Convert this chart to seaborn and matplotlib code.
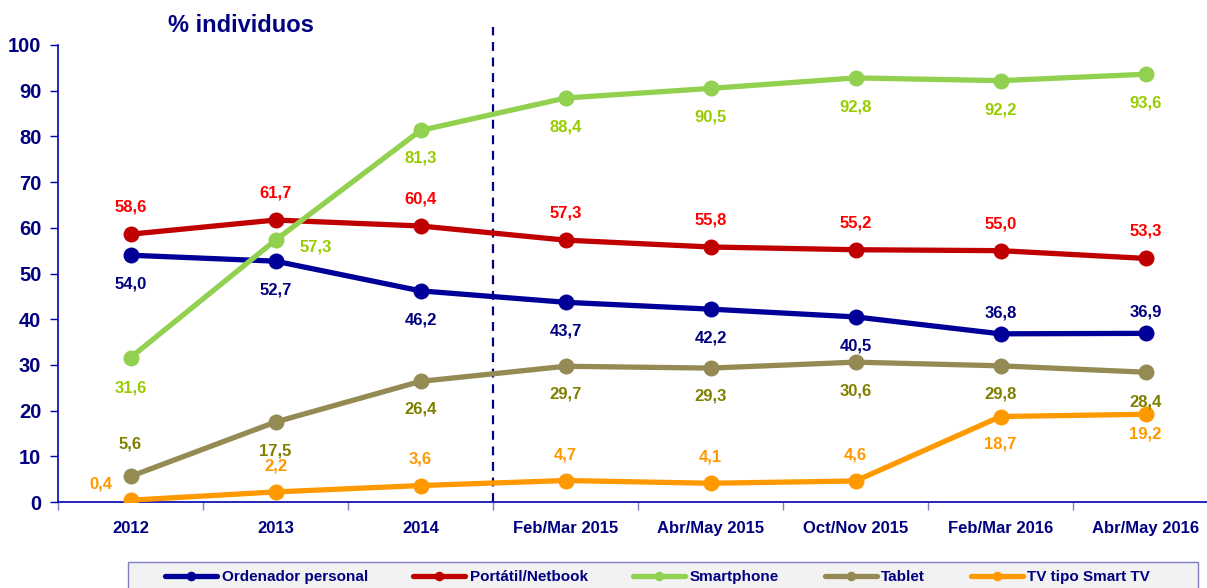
import matplotlib
matplotlib.use("Agg")
import matplotlib.pyplot as plt
from matplotlib.patches import Rectangle
from matplotlib.ticker import FixedLocator, MultipleLocator
import pandas as pd
import seaborn as sns

# -----------------------------------------------------------------
# DATOS
# -----------------------------------------------------------------
periods = ["2012", "2013", "2014", "Feb/Mar 2015", "Abr/May 2015",
           "Oct/Nov 2015", "Feb/Mar 2016", "Abr/May 2016"]

ordenador = [54.0, 52.7, 46.2, 43.7, 42.2, 40.5, 36.8, 36.9]
portatil = [58.6, 61.7, 60.4, 57.3, 55.8, 55.2, 55.0, 53.3]
smartphone = [31.6, 57.3, 81.3, 88.4, 90.5, 92.8, 92.2, 93.6]
tablet = [5.6, 17.5, 26.4, 29.7, 29.3, 30.6, 29.8, 28.4]
smart_tv = [0.4, 2.2, 3.6, 4.7, 4.1, 4.6, 18.7, 19.2]

series_names = ["Ordenador personal", "Portátil/Netbook", "Smartphone",
                "Tablet", "TV tipo Smart TV"]
series_values = [ordenador, portatil, smartphone, tablet, smart_tv]

# estilo por serie: color de linea, color de etiqueta
line_colors = ["#000099", "#C00000", "#92D050", "#948A54", "#FF9900"]
label_colors = ["#000080", "#FF0000", "#99CC00", "#808000", "#FF9900"]
zorders = [3, 3, 5, 3, 4]

# desplazamiento de las etiquetas en pixeles (dx, dy), dy positivo = arriba
label_offsets = [
    [(0, -29)] * 6 + [(0, 21), (0, 21)],
    [(0, 27)] * 8,
    [(0, -30), (40, -7), (0, -28), (0, -29), (0, -29), (0, -29), (0, -29), (0, -29)],
    [(0, 32), (0, -29), (0, -28), (0, -28), (0, -28), (0, -29), (0, -28), (0, -30)],
    [(-30, 16), (0, 26), (0, 27), (0, 26), (0, 26), (0, 26), (0, -27), (0, -20)],
]

NAVY = "#000080"

sns.set_theme(style="white")
plt.rcParams["font.family"] = ["Liberation Sans", "DejaVu Sans"]

fig = plt.figure(figsize=(12.07, 5.88), dpi=100)
ax = fig.add_axes([58 / 1207, 1 - 502 / 588, 1160 / 1207, 457 / 588])

for name, values, lc, tc, z, offs in zip(series_names, series_values, line_colors,
                                          label_colors, zorders, label_offsets):
    df = pd.DataFrame({"periodo": periods, "valor": values})
    sns.lineplot(data=df, x="periodo", y="valor", ax=ax, color=lc, linewidth=3.8,
                 marker="o", markersize=11.5, markeredgewidth=0, label=name,
                 zorder=z, sort=False)
    for i, v in enumerate(values):
        dx, dy = offs[i]
        ax.annotate(f"{v:.1f}".replace(".", ","), (i, v),
                    xytext=(dx * 0.72, dy * 0.72), textcoords="offset points",
                    ha="center", va="center", fontsize=12, fontweight="bold",
                    color=tc, zorder=6)

# linea discontinua entre 2014 y Feb/Mar 2015
ax.axvline(2.5, ymin=0, ymax=1.039, color=NAVY, linestyle=(0, (4, 3)),
           linewidth=1.6, clip_on=False, zorder=2)

ax.set_ylim(0, 100)
ax.set_xlim(-0.5, 7.5)
ax.yaxis.set_major_locator(MultipleLocator(10))
ax.set_xlabel("")
ax.set_ylabel("")

for side in ["top", "right"]:
    ax.spines[side].set_visible(False)
ax.spines["left"].set_color("#0000B0")
ax.spines["bottom"].set_color("#0000B0")
ax.spines["left"].set_linewidth(1.2)
ax.spines["bottom"].set_linewidth(1.2)

ax.set_xticks(range(len(periods)))
ax.set_xticklabels(periods)
ax.xaxis.set_minor_locator(FixedLocator([k - 0.5 for k in range(len(periods) + 1)]))
ax.tick_params(axis="x", which="major", length=0, pad=14, labelsize=12, labelcolor=NAVY)
ax.tick_params(axis="x", which="minor", bottom=True, length=6, width=1, color="#8080C0")
ax.tick_params(axis="y", left=True, length=6, width=1, color="#0000B0", pad=6,
               labelsize=14.5, labelcolor=NAVY)
for lab in ax.get_xticklabels() + ax.get_yticklabels():
    lab.set_fontweight("bold")

fig.text(168 / 1207, 1 - 25 / 588, "% individuos", ha="left", va="center",
         fontsize=17, fontweight="bold", color=NAVY)

# caja de la leyenda (cortada por el borde inferior, como en el original)
fig.patches.append(Rectangle((128 / 1207, -0.05), 1070 / 1207, 1 - 562 / 588 + 0.05,
                             transform=fig.transFigure, facecolor="#F2F2F2",
                             edgecolor="#7F7FC0", linewidth=1.0, zorder=0))

handles, labels = ax.get_legend_handles_labels()
ax.get_legend().remove()
leg = fig.legend(handles, labels, loc="center left",
                 bbox_to_anchor=(165 / 1207, 1 - 577 / 588 - 0.02, 985 / 1207, 0.04),
                 mode="expand", ncol=5, frameon=False,
                 borderaxespad=0, markerscale=0.6, handlelength=3.4,
                 handletextpad=0.3, borderpad=0, columnspacing=2.0,
                 prop={"family": ["Liberation Sans Narrow", "Liberation Sans"],
                       "weight": "bold", "size": 11})
for t in leg.get_texts():
    t.set_color(NAVY)

fig.savefig("out.png", dpi=100)
